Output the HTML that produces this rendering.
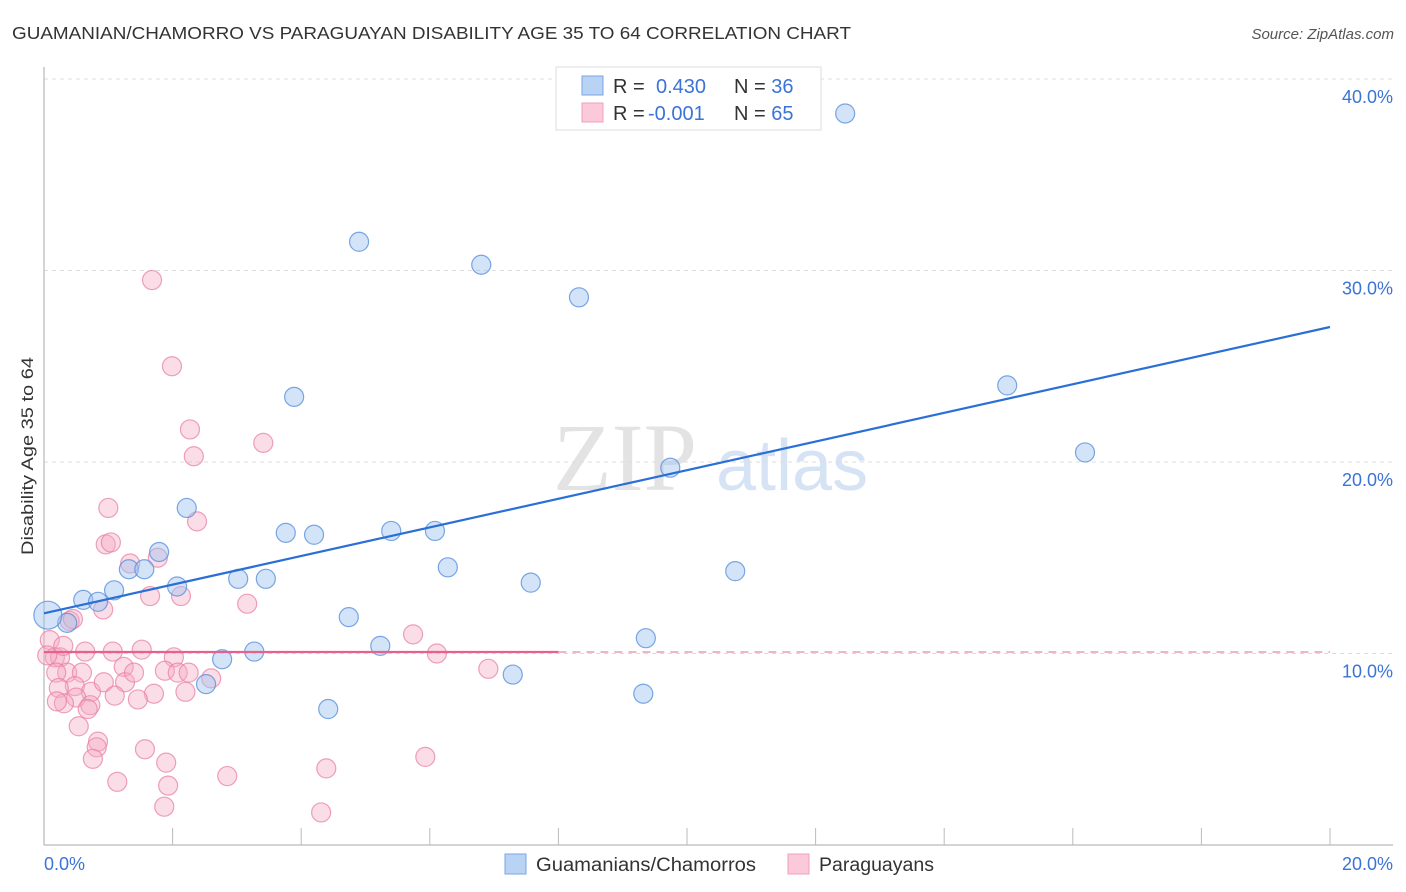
<!DOCTYPE html>
<html><head><meta charset="utf-8"><style>
body{margin:0;background:#fff;font-family:"Liberation Sans",sans-serif;}
svg{display:block}
</style></head><body>
<svg id="chart" width="1406" height="892">
<text x="12" y="39" font-size="17.5" fill="#333" textLength="839" lengthAdjust="spacingAndGlyphs">GUAMANIAN/CHAMORRO VS PARAGUAYAN DISABILITY AGE 35 TO 64 CORRELATION CHART</text>
<text x="1394" y="39" font-size="15" fill="#555" font-style="italic" text-anchor="end">Source: ZipAtlas.com</text>
<text transform="translate(33,456) rotate(-90)" font-size="17" fill="#333" text-anchor="middle" textLength="198" lengthAdjust="spacingAndGlyphs">Disability Age 35 to 64</text>
<g>
<text x="553" y="490" font-size="96" fill="#e3e3e3" font-family="Liberation Serif,serif">ZIP</text>
<text x="716" y="490" font-size="72" fill="#d5e3f5">atlas</text>
</g>
<g id="grid"></g>
<g id="axes"></g>
<g id="pts"></g>
<g id="lines"></g>
<g>
<rect x="556" y="67" width="265" height="63" fill="#fff" stroke="#ddd"/>
<rect x="582" y="76" width="21" height="19" fill="#b9d3f5" stroke="#7aa6e2"/>
<rect x="582" y="103" width="21" height="19" fill="#fbc9d9" stroke="#eea0ba"/>
<text x="613" y="93" font-size="20" fill="#333">R = <tspan x="656" fill="#3b73d6">0.430</tspan></text>
<text x="734" y="93" font-size="20" fill="#333">N = <tspan fill="#3b73d6">36</tspan></text>
<text x="613" y="120" font-size="20" fill="#333">R = <tspan x="648" fill="#3b73d6">-0.001</tspan></text>
<text x="734" y="120" font-size="20" fill="#333">N = <tspan fill="#3b73d6">65</tspan></text>
</g>
<g>
<rect x="505" y="854" width="21" height="20" fill="#b9d3f5" stroke="#7aa6e2"/>
<text x="536" y="871" font-size="19" fill="#333" textLength="220" lengthAdjust="spacingAndGlyphs">Guamanians/Chamorros</text>
<rect x="788" y="854" width="21" height="20" fill="#fbc9d9" stroke="#eea0ba"/>
<text x="819" y="871" font-size="19" fill="#333" textLength="115" lengthAdjust="spacingAndGlyphs">Paraguayans</text>
</g>
</svg>
<script>
const yTicks=[10,20,30,40];
const yTickLabels=["10.0%","20.0%","30.0%","40.0%"];
const blueX=[12.46,4.90,6.80,8.32,3.89,14.98,16.19,9.74,2.22,3.76,4.20,5.40,6.08,1.79,1.32,1.56,6.28,10.75,3.02,3.45,7.57,1.09,2.07,0.61,0.84,4.74,0.36,0.06,5.23,9.36,3.27,2.77,7.29,2.52,9.32,4.42];
const blueY=[38.2,31.5,30.3,28.6,23.4,24.0,20.5,19.7,17.6,16.3,16.2,16.4,16.4,15.3,14.4,14.4,14.5,14.3,13.9,13.9,13.7,13.3,13.5,12.8,12.7,11.9,11.6,12.0,10.4,10.8,10.1,9.7,8.9,8.4,7.9,7.1];
const pinkX=[1.68,1.99,2.27,3.41,2.33,1.00,2.38,0.96,1.04,1.77,1.34,1.65,2.13,0.92,3.16,0.40,0.09,5.74,6.11,6.91,0.17,0.25,0.64,1.07,1.52,2.02,0.36,0.19,0.59,1.24,1.88,2.08,2.25,0.48,0.23,0.73,0.93,1.26,2.60,1.71,0.50,1.10,1.46,0.31,0.72,0.68,0.54,0.84,0.82,1.57,0.76,1.90,2.85,4.39,5.93,1.14,1.93,1.87,4.31,0.05,0.30,0.45,1.40,2.20,0.20];
const pinkY=[29.5,25.0,21.7,21.0,20.3,17.6,16.9,15.7,15.8,15.0,14.7,13.0,13.0,12.3,12.6,11.7,10.7,11.0,10.0,9.2,9.8,9.8,10.1,10.1,10.2,9.8,9.0,9.0,9.0,9.3,9.1,9.0,9.0,8.3,8.2,8.0,8.5,8.5,8.7,7.9,7.7,7.8,7.6,7.4,7.3,7.1,6.2,5.4,5.1,5.0,4.5,4.3,3.6,4.0,4.6,3.3,3.1,2.0,1.7,9.9,10.4,11.8,9.0,8.0,7.5];
const blueFit=[12.1,27.05];
const pinkFit=[10.08,10.08];
const X0=44,X1=1330,Y0=845,PX_PER=19.15;
const sx=v=>X0+(v/20)*(X1-X0);
const sy=v=>Y0-v*PX_PER;
const NS="http://www.w3.org/2000/svg";
function mk(tag,attrs,parent){const e=document.createElementNS(NS,tag);for(const k in attrs)e.setAttribute(k,attrs[k]);parent.appendChild(e);return e;}
const grid=document.getElementById('grid'),axes=document.getElementById('axes'),pts=document.getElementById('pts'),lines=document.getElementById('lines');
yTicks.forEach((t,i)=>{
 const l=mk('line',{x1:44,x2:1393,y1:sy(t),y2:sy(t),stroke:'#ddd','stroke-dasharray':'4,4'},grid);
 
 
 const tx=mk('text',{x:1393,y:sy(t)+24,'font-size':18,fill:'#3b73d6','text-anchor':'end'},grid);
 tx.textContent=yTickLabels[i];
 
 
});
const ax=mk('line',{x1:44,x2:1393,y1:845,y2:845,stroke:'#aaa'},axes);


const ay=mk('line',{x1:44,x2:44,y1:67,y2:845,stroke:'#aaa'},axes);


for(let v=2;v<=20;v+=2){
 const t=mk('line',{x1:sx(v),x2:sx(v),y1:828,y2:845,stroke:'#bbb'},axes);
 
 
}
const xl=mk('text',{x:44,y:870,'font-size':18,fill:'#3b73d6'},axes);xl.textContent='0.0%';


const xr=mk('text',{x:1393,y:870,'font-size':18,fill:'#3b73d6','text-anchor':'end'},axes);xr.textContent='20.0%';


pinkX.forEach((x,i)=>{
 const c=mk('circle',{cx:sx(x),cy:sy(pinkY[i]),r:9.5,fill:'rgba(246,170,195,0.4)',stroke:'rgba(232,130,165,0.75)','stroke-width':1.2},pts);
 
 
});
blueX.forEach((x,i)=>{
 const c=mk('circle',{cx:sx(x),cy:sy(blueY[i]),r:(i===27?14:9.5),fill:'rgba(160,195,240,0.45)',stroke:'rgba(90,145,220,0.8)','stroke-width':1.2},pts);
 
 
});
const bl=mk('line',{x1:sx(0),y1:sy(blueFit[0]),x2:sx(20),y2:sy(blueFit[1]),stroke:'#2a6fd6','stroke-width':2.2},lines);


const pl=mk('line',{x1:sx(0),y1:sy(pinkFit[0]),x2:sx(8),y2:sy(pinkFit[0]+(pinkFit[1]-pinkFit[0])*0.4),stroke:'#e5628c','stroke-width':2.2},lines);


const pd=mk('line',{x1:sx(8),y1:sy(pinkFit[0]+(pinkFit[1]-pinkFit[0])*0.4),x2:sx(20),y2:sy(pinkFit[1]),stroke:'#e88aa8','stroke-width':1.3,'stroke-dasharray':'8,6'},lines);


</script>
</body></html>
